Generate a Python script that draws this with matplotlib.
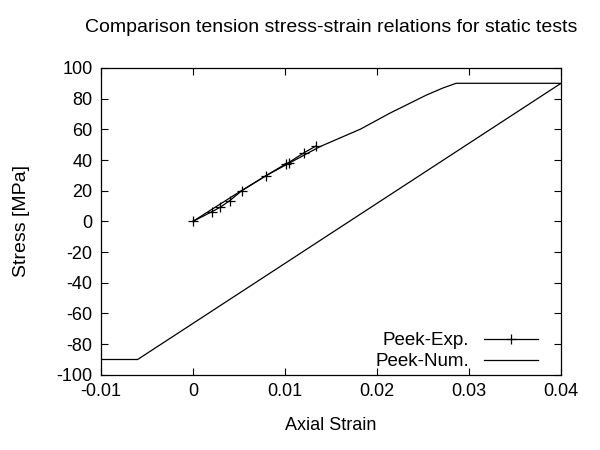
import numpy as np
import matplotlib.pyplot as plt

plt.rcParams['font.family'] = ['Liberation Sans', 'DejaVu Sans']
plt.rcParams['axes.unicode_minus'] = False

# Experimental points (strain, stress)
exp_strain = [0.0, 0.0021, 0.0030, 0.0040, 0.0053, 0.0079, 0.0101, 0.0104, 0.0121, 0.0134]
exp_stress = [0.0, 6.4, 9.3, 13.5, 19.9, 29.6, 37.5, 38.3, 44.8, 49.2]

# Numerical curve: loading, plateau, unloading, compression plateau
num_strain = [0.0, 0.005, 0.008, 0.0138, 0.0182, 0.0214, 0.0254, 0.0272, 0.0286, 0.04, -0.006, -0.01]
num_stress = [0.0, 19.0, 30.0, 48.7, 60.1, 70.5, 82.4, 87.0, 90.0, 90.0, -90.0, -90.0]

fig = plt.figure(figsize=(6, 4.5), dpi=100)
ax = fig.add_axes([0.168, 0.167, 0.767, 0.682])

ax.plot(exp_strain, exp_stress, color='black', lw=0.9, marker='+', ms=7, mew=0.9, label='Peek-Exp.')
ax.plot(num_strain, num_stress, color='black', lw=0.9, label='Peek-Num.')

ax.set_xlim(-0.01, 0.04)
ax.set_ylim(-100, 100)
ax.set_xticks([-0.01, 0, 0.01, 0.02, 0.03, 0.04])
ax.set_xticklabels(['-0.01', '0', '0.01', '0.02', '0.03', '0.04'])
ax.set_yticks(np.arange(-100, 101, 20))
ax.tick_params(direction='in', top=True, right=True, labelsize=13, length=5, width=0.8, pad=6)
for s in ax.spines.values():
    s.set_linewidth(0.9)

ax.set_xlabel('Axial Strain', fontsize=13, labelpad=12)
ax.set_ylabel('Stress [MPa]', fontsize=14, labelpad=19)
ax.set_title('Comparison tension stress-strain relations for static tests', fontsize=14, pad=26)

ax.legend(loc='lower right', bbox_to_anchor=(0.975, -0.022), frameon=False, markerfirst=False, fontsize=13.5,
          handlelength=2.9, handletextpad=0.8, labelspacing=0.2, borderaxespad=0.2)

fig.savefig('out.png', dpi=100)
